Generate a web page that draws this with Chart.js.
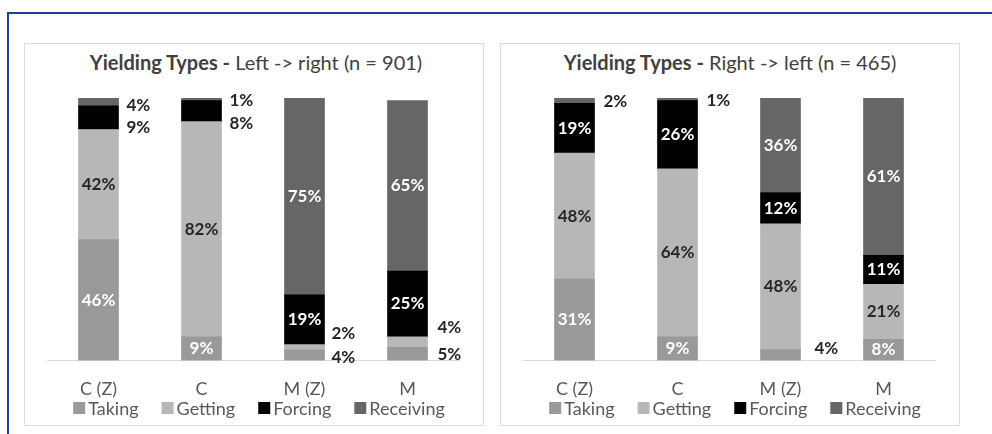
<!DOCTYPE html>
<html>
<head>
<meta charset="utf-8">
<script src="https://cdn.jsdelivr.net/npm/chart.js@4"></script>
<style>
  html, body { margin: 0; padding: 0; background: #fff; overflow: hidden; }
  body { width: 992px; height: 434px; position: relative; font-family: Lato, "Open Sans", sans-serif; }
  #frame { position: absolute; left: 7px; top: 12px; width: 1100px; height: 600px;
           border-left: 2px solid #1d3f98; border-top: 2px solid #1d3f98; }
  .panel { position: absolute; top: 43px; width: 458px; height: 381px; border: 1px solid #dcdcdc; }
  .panel canvas { position: absolute; left: 0; top: 0; }
  .title { position: absolute; left: 0; top: 6px; width: 100%; text-align: center;
           font-size: 20px; line-height: 24px; color: #404040; }
  .title b { font-weight: 700; }
</style>
</head>
<body>
<div id="frame"></div>
<div class="panel" style="left:24px">
  <div class="title" style="left:2px"><b>Yielding Types -</b> Left -&gt; right (n = 901)</div>
  <canvas id="ltr" width="458" height="381"></canvas>
</div>
<div class="panel" style="left:500px">
  <div class="title"><b>Yielding Types -</b> Right -&gt; left (n = 465)</div>
  <canvas id="rtl" width="458" height="381"></canvas>
</div>
<script>
const categories = ['C (Z)', 'C', 'M (Z)', 'M'];
const seriesNames = ['Taking', 'Getting', 'Forcing', 'Receiving'];
const seriesColors = ['#999999', '#b7b7b7', '#000000', '#666666'];

// Left -> right (n = 901), percent
const ltrTaking = [46, 9, 4, 5];
const ltrGetting = [42, 82, 2, 4];
const ltrForcing = [9, 8, 19, 25];
const ltrReceiving = [4, 1, 75, 65];

// Right -> left (n = 465), percent
const rtlTaking = [31, 9, 4, 8];
const rtlGetting = [48, 64, 48, 21];
const rtlForcing = [19, 26, 12, 11];
const rtlReceiving = [2, 1, 36, 61];

// labels drawn beside the bar: "dataset,index" -> [x gap px, y position in %]
const ltrOutside = {
  '3,0': [8, 97.3], '2,0': [8, 88.9],
  '3,1': [8, 98.9], '2,1': [8, 90.1],
  '1,2': [7, 10.3], '0,2': [7, 1.1],
  '1,3': [10, 12.6], '0,3': [10, 2.3]
};
const rtlOutside = {
  '3,0': [9, 98.5],
  '3,1': [9, 98.9],
  '0,2': [14, 4.6]
};

const FONT = 'Lato, "Open Sans", sans-serif';

const barLabels = {
  id: 'barLabels',
  afterDatasetsDraw(chart, args, opts) {
    const ctx = chart.ctx;
    const y = chart.scales.y;
    ctx.save();
    ctx.font = 'bold 17px ' + FONT;
    ctx.textBaseline = 'middle';
    chart.data.datasets.forEach((ds, di) => {
      chart.getDatasetMeta(di).data.forEach((bar, i) => {
        const txt = ds.data[i] + '%';
        const out = opts.outside[di + ',' + i];
        if (out) {
          ctx.fillStyle = '#262626';
          ctx.textAlign = 'left';
          ctx.fillText(txt, bar.x + bar.width / 2 + out[0], y.getPixelForValue(out[1]));
        } else {
          ctx.fillStyle = di === 1 ? '#262626' : '#ffffff';
          ctx.textAlign = 'center';
          const top = Math.max(bar.y, chart.chartArea.top);
          ctx.fillText(txt, bar.x, (top + bar.base) / 2);
        }
      });
    });
    ctx.restore();
  }
};

// legend row under the axis labels
const boxLegend = {
  id: 'boxLegend',
  afterDraw(chart, args, opts) {
    const ctx = chart.ctx;
    const box = 12, gap = 3, spacing = 23;
    ctx.save();
    ctx.font = '18px ' + FONT;
    ctx.textBaseline = 'middle';
    ctx.textAlign = 'left';
    const items = chart.data.datasets.map(ds => ({ text: ds.label, color: ds.backgroundColor, w: ctx.measureText(ds.label).width }));
    const total = items.reduce((s, it) => s + box + gap + it.w, 0) + spacing * (items.length - 1);
    const area = chart.chartArea;
    let x = (area.left + area.right) / 2 + opts.shift - total / 2;
    const yc = opts.y;
    items.forEach(it => {
      ctx.fillStyle = it.color;
      ctx.fillRect(x, yc - box / 2, box, box);
      ctx.fillStyle = '#595959';
      ctx.fillText(it.text, x + box + gap, yc + 1);
      x += box + gap + it.w + spacing;
    });
    ctx.restore();
  }
};

function makeChart(id, values, outside) {
  new Chart(document.getElementById(id), {
    type: 'bar',
    data: {
      labels: categories,
      datasets: seriesNames.map((name, k) => ({
        label: name,
        data: values[k],
        backgroundColor: seriesColors[k],
        barThickness: 40
      }))
    },
    options: {
      responsive: false,
      animation: false,
      layout: { padding: { left: 22, right: 24, top: 54, bottom: 7 } },
      scales: {
        x: {
          stacked: true,
          grid: { display: false, drawTicks: false },
          border: { color: '#d9d9d9' },
          ticks: { color: '#595959', font: { size: 18, family: FONT }, padding: 18 }
        },
        y: { stacked: true, display: false, min: 0, max: 100 }
      },
      plugins: {
        legend: { display: false },
        tooltip: { enabled: false },
        barLabels: { outside: outside },
        boxLegend: { y: 364, shift: 6 }
      }
    },
    plugins: [barLabels, boxLegend]
  });
}

makeChart('ltr', [ltrTaking, ltrGetting, ltrForcing, ltrReceiving], ltrOutside);
makeChart('rtl', [rtlTaking, rtlGetting, rtlForcing, rtlReceiving], rtlOutside);
</script>
</body>
</html>
